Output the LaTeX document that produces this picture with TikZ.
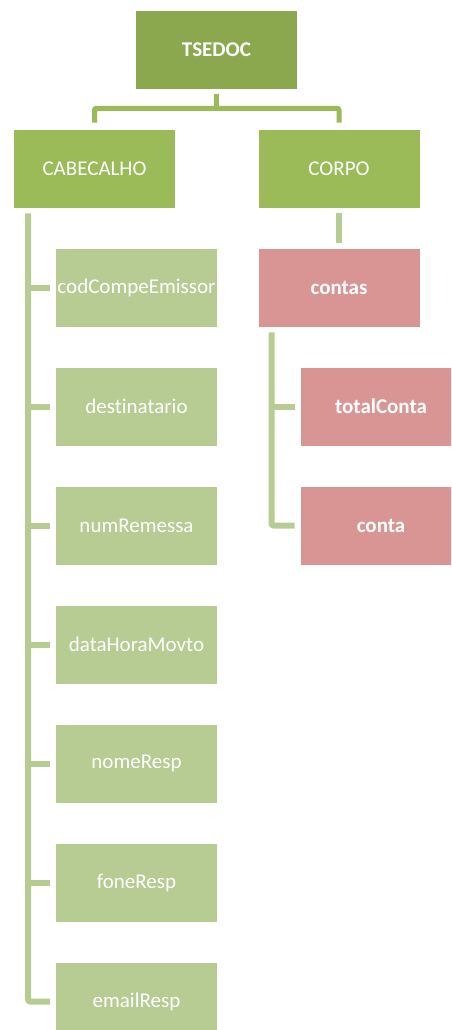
\documentclass[tikz,border=0pt]{standalone}
\usepackage{fontspec}
\setmainfont[Ligatures=NoCommon]{Carlito}
\usetikzlibrary{calc}
\definecolor{topgreen}{HTML}{8CA84E}
\definecolor{midgreen}{HTML}{9BBB59}
\definecolor{lightgreen}{HTML}{B7CC93}
\definecolor{rose}{HTML}{D99594}
\begin{document}
\begin{tikzpicture}[x=1pt,y=-1pt,
  box/.style={rectangle, inner sep=0pt, minimum width=162pt, minimum height=79pt,
    text=white, font=\fontsize{21}{25}\selectfont, draw=white, line width=0.6pt},
  topbox/.style={box, fill=topgreen, font=\fontsize{21}{25}\selectfont\bfseries},
  midbox/.style={box, fill=midgreen},
  leafbox/.style={box, fill=lightgreen},
  rosebox/.style={box, fill=rose, font=\fontsize{21}{25}\selectfont\bfseries},
  conn/.style={draw=midgreen, line width=5pt, rounded corners=2pt},
  sub/.style={draw=lightgreen, line width=6pt, rounded corners=2pt}]
\useasboundingbox (0,0) rectangle (451,1030);
\clip (0,0) rectangle (451,1030);
\node[topbox] (TSEDOC) at (216.5,49.5) {TSEDOC};
\node[midbox] (CAB) at (94.5,168.5) {CABECALHO};
\node[midbox] (CORPO) at (339,168.5) {CORPO};
\node[leafbox] (c1) at (136.5,287.5) {codCompeEmissor};
\node[leafbox] (c2) at (136.5,406.5) {destinatario};
\node[leafbox] (c3) at (136.5,525.5) {numRemessa};
\node[leafbox] (c4) at (136.5,644.5) {dataHoraMovto};
\node[leafbox] (c5) at (136.5,763.5) {nomeResp};
\node[leafbox] (c6) at (136.5,882.5) {foneResp};
\node[leafbox] (c7) at (136.5,1001.5) {emailResp};
\node[rosebox] (contas) at (339,287.5) {contas};
\node[rosebox] (total) at (381,406.5) {totalConta};
\node[rosebox] (conta) at (381,525.5) {conta};
% top connector
\coordinate (hub) at ($(TSEDOC.south)+(0,19)$);
\draw[conn] ($(TSEDOC.south)+(0,5)$) -- (hub);
\draw[conn] ($(CAB.north)+(0,-6)$) |- (hub) -| ($(CORPO.north)+(0,-6)$);
% CABECALHO spine
\coordinate (spine) at ($(CAB.south west)+(15,5)$);
\draw[sub] (spine) |- ($(c7.west)+(-5,0)$);
\foreach \c in {c1,c2,c3,c4,c5,c6}
  \draw[sub] ($(\c.west)+(-5,0)$) -- (\c.west -| spine);
% CORPO stub
\draw[sub] ($(CORPO.south)+(0,5)$) -- ($(contas.north)+(0,-5)$);
% contas spine
\coordinate (spine2) at ($(contas.south west)+(14,5)$);
\draw[sub] (spine2) |- ($(conta.west)+(-5,0)$);
\draw[sub] ($(total.west)+(-5,0)$) -- (total.west -| spine2);
\end{tikzpicture}
\end{document}
